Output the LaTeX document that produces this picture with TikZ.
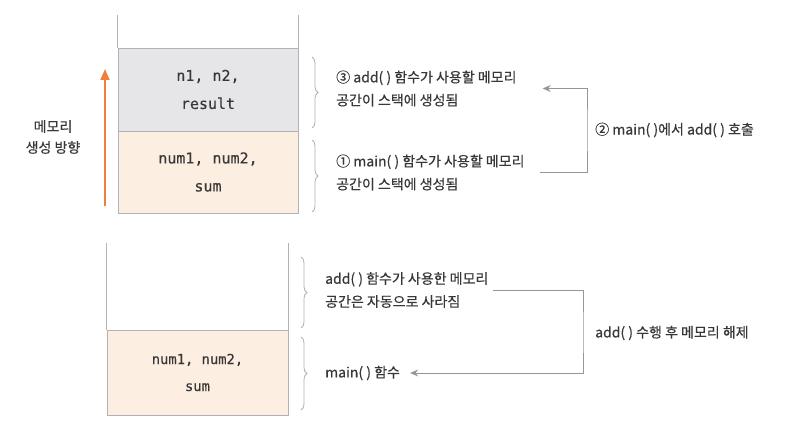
\documentclass[tikz,border=0pt]{standalone}
\usepackage{fontspec}
\newfontfamily\krfont[FakeBold=0.4]{Noto Sans CJK KR}
\newfontfamily\codefont[FakeBold=0.3]{DejaVu Sans Mono}
\usetikzlibrary{arrows.meta,positioning,decorations.pathreplacing}
\definecolor{edge}{RGB}{178,178,180}
\definecolor{ink}{RGB}{55,55,55}
\definecolor{wire}{RGB}{150,150,150}
\definecolor{stackgray}{RGB}{230,230,233}
\definecolor{stackpeach}{RGB}{253,238,226}
\definecolor{groworange}{RGB}{238,128,58}

\begin{document}
\begin{tikzpicture}[x=1pt,y=-1pt,
	cell/.style={draw=edge,line width=0.8pt,minimum width=180pt,inner sep=0pt,
		font=\codefont\fontsize{13.8}{27}\selectfont,text=ink,align=center},
	bigcell/.style={cell,font=\codefont\fontsize{15}{28}\selectfont},
	note/.style={font=\krfont\fontsize{14}{23}\selectfont,text=ink,align=left,anchor=west,inner sep=0pt},
	curly/.style={draw=edge,line width=0.8pt,decorate,decoration={brace,amplitude=6pt}},
	flow/.style={draw=wire,line width=0.9pt,-{Stealth[length=8pt,width=7pt]}},
	growline/.style={draw=groworange,line width=2pt,-{Triangle[length=11pt,width=9pt]}}]
	\fill[white] (0,0) rectangle (811,438);
	\useasboundingbox (0,0) rectangle (811,438);
	% upper stack
	\node[bigcell,fill=stackgray,minimum height=83pt] (addcell) at (208,89.5) {n1, n2,\\result};
	\node[bigcell,fill=stackpeach,minimum height=82pt] (maincell) at (208,172) {num1, num2,\\sum};
	\draw[edge,line width=0.8pt] (addcell.north west) -- ++(0,-33);
	\draw[edge,line width=0.8pt] (addcell.north east) -- ++(0,-33);
	% growth direction
	\coordinate (growlo) at (105,206);
	\coordinate (growhi) at (105,69);
	\draw[growline] (growlo) -- (growhi);
	\node[font=\krfont\fontsize{14}{21}\selectfont,text=ink,align=center] (growlbl) at (53,137) {메모리\\생성 방향};
	% braces and notes, upper
	\draw[curly] (312,57) -- (312,128);
	\draw[curly] (312,140) -- (312,212);
	\node[note] (step3) at (336,88.5) {③ add( ) 함수가 사용할 메모리\\공간이 스택에 생성됨};
	\node[note] (step1) at (336,172.5) {① main( ) 함수가 사용할 메모리\\공간이 스택에 생성됨};
	\coordinate (callturn) at (587,130);
	\draw[flow] ([xshift=15pt]step1.east) -| (callturn) |- ([xshift=26pt]step3.east);
	\node[note] (calllbl) [right=8pt of callturn] {② main( )에서 add( ) 호출};
	% lower stack
	\node[minimum width=181pt,minimum height=87pt,inner sep=0pt] (freed) at (197.5,286.5) {};
	\draw[edge,line width=0.8pt] (freed.north west) -- (freed.south west);
	\draw[edge,line width=0.8pt] (freed.north east) -- (freed.south east);
	\node[cell,fill=stackpeach,minimum width=181pt,minimum height=85pt] (mainleft) at (197.5,372.5) {num1, num2,\\sum};
	% braces and notes, lower
	\draw[curly] (301,257) -- (301,328);
	\draw[curly] (301,337) -- (301,410);
	\node[note] (freedtxt) at (325,290) {add( ) 함수가 사용한 메모리\\공간은 자동으로 사라짐};
	\node[note] (maintxt) at (325,373) {main( ) 함수};
	\coordinate (freeturn) at (583,333);
	\draw[flow] ([xshift=4pt]freedtxt.east) -| (freeturn) |- ([xshift=10pt]maintxt.east);
	\node[note] (freelbl) [right=12pt of freeturn] {add( ) 수행 후 메모리 해제};
\end{tikzpicture}
\end{document}
